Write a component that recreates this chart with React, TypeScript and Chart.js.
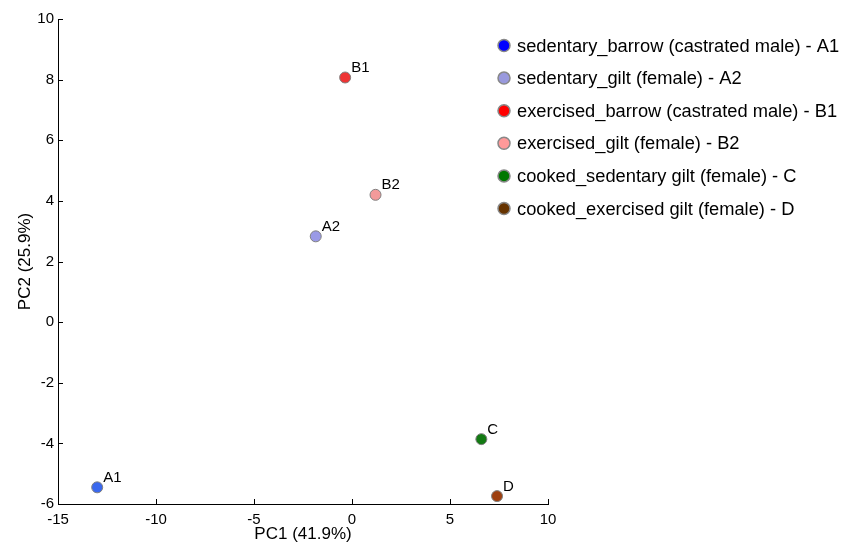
import React, { useEffect, useRef } from "react";
import { Chart, registerables } from "chart.js";

Chart.register(...registerables);

const labels = [
  "sedentary_barrow (castrated male) - A1",
  "sedentary_gilt (female) - A2",
  "exercised_barrow (castrated male) - B1",
  "exercised_gilt (female) - B2",
  "cooked_sedentary gilt (female) - C",
  "cooked_exercised gilt (female) - D",
];
const pointNames = ["A1", "A2", "B1", "B2", "C", "D"];
const pc1 = [-13.0, -1.85, -0.35, 1.2, 6.6, 7.4];
const pc2 = [-5.45, 2.83, 8.07, 4.2, -3.86, -5.74];
const pointColors = ["#3a68ee", "#9a9ae6", "#ee3434", "#f29a9a", "#137a13", "#9e4010"];
const legendColors = ["#0000ff", "#9999dd", "#ff0000", "#ff9999", "#007700", "#663300"];
const xTicks = [-15, -10, -5, 0, 5, 10];
const yTicks = [-6, -4, -2, 0, 2, 4, 6, 8, 10];

const FONT = "'Liberation Sans', Arial, sans-serif";

const overlay = {
  id: "overlay",
  afterDatasetsDraw(chart: any) {
    const { ctx, chartArea } = chart;
    const xs = chart.scales.x;
    const ys = chart.scales.y;
    ctx.save();
    // inward tick marks
    ctx.strokeStyle = "#000";
    ctx.lineWidth = 1;
    ctx.beginPath();
    xTicks.forEach((v) => {
      const px = Math.round(xs.getPixelForValue(v)) + 0.5;
      ctx.moveTo(px, chartArea.bottom);
      ctx.lineTo(px, chartArea.bottom - 5);
    });
    yTicks.forEach((v) => {
      const py = Math.round(ys.getPixelForValue(v)) + 0.5;
      ctx.moveTo(chartArea.left, py);
      ctx.lineTo(chartArea.left + 5, py);
    });
    ctx.stroke();
    // point labels
    ctx.fillStyle = "#000";
    ctx.font = `15px ${FONT}`;
    ctx.textAlign = "left";
    ctx.textBaseline = "middle";
    chart.data.datasets.forEach((ds: any, i: number) => {
      const el = chart.getDatasetMeta(i).data[0];
      ctx.fillText(pointNames[i], el.x + 6, el.y - 9.5);
    });
    // legend
    const lx = 504;
    const ly0 = 45.5;
    const dy = 32.6;
    ctx.font = `18.3px ${FONT}`;
    labels.forEach((t, i) => {
      const cy = ly0 + i * dy;
      ctx.beginPath();
      ctx.arc(lx, cy, 6, 0, Math.PI * 2);
      ctx.fillStyle = legendColors[i];
      ctx.fill();
      ctx.strokeStyle = "#888";
      ctx.lineWidth = 1.5;
      ctx.stroke();
      ctx.fillStyle = "#000";
      ctx.fillText(t, 517, cy + 1);
    });
    ctx.restore();
  },
};

export default function App() {
  const ref = useRef<HTMLCanvasElement>(null);
  useEffect(() => {
    if (!ref.current) return;
    const chart = new Chart(ref.current, {
      type: "scatter",
      data: {
        datasets: labels.map((l, i) => ({
          label: l,
          data: [{ x: pc1[i], y: pc2[i] }],
          backgroundColor: pointColors[i],
          borderColor: "#808080",
          borderWidth: 1,
          pointRadius: 5.5,
        })),
      },
      options: {
        animation: false,
        responsive: false,
        maintainAspectRatio: false,
        layout: { padding: { top: 19, right: 296, bottom: 0, left: 0 } },
        plugins: { legend: { display: false }, tooltip: { enabled: false } },
        scales: {
          x: {
            type: "linear",
            min: -15,
            max: 10,
            afterFit: (s: any) => {
              s.height = 41;
            },
            grid: { display: false, drawTicks: false },
            border: { display: true, color: "#000", width: 1 },
            ticks: {
              stepSize: 5,
              color: "#000",
              font: { family: FONT, size: 15 },
              padding: 7,
              maxRotation: 0,
            },
            title: {
              display: true,
              text: "PC1 (41.9%)",
              color: "#000",
              font: { family: FONT, size: 17 },
              padding: { top: 0, bottom: 0 },
            },
          },
          y: {
            type: "linear",
            min: -6,
            max: 10,
            afterFit: (s: any) => {
              s.width = 58;
            },
            grid: { display: false, drawTicks: false },
            border: { display: true, color: "#000", width: 1 },
            ticks: {
              stepSize: 2,
              color: "#000",
              font: { family: FONT, size: 15 },
              padding: 4,
            },
            title: {
              display: true,
              text: "PC2 (25.9%)",
              color: "#000",
              font: { family: FONT, size: 17 },
              padding: { top: 15, bottom: 0 },
            },
          },
        },
      },
      plugins: [overlay],
    });
    return () => chart.destroy();
  }, []);
  return (
    <div style={{ position: "fixed", left: 0, top: 0, width: 844, height: 545, background: "#fff" }}>
      <canvas ref={ref} width={844} height={545} style={{ width: 844, height: 545 }} />
    </div>
  );
}
